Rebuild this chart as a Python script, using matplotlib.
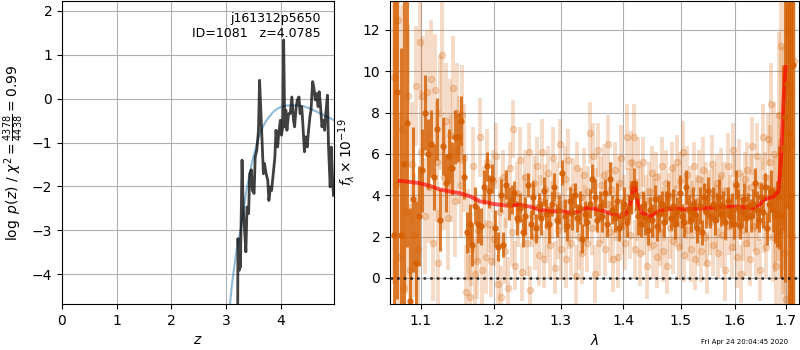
import numpy as np
import matplotlib
matplotlib.use('Agg')
import matplotlib.pyplot as plt
from matplotlib.ticker import NullLocator, NullFormatter

# p(z) panel
pz_z = [3.21, 3.215, 3.24, 3.25, 3.26, 3.29, 3.31, 3.34, 3.36, 3.38,
        3.41, 3.43, 3.46, 3.48, 3.51, 3.53, 3.56, 3.59, 3.61, 3.63,
        3.65, 3.68, 3.70, 3.73, 3.76, 3.78, 3.81, 3.83, 3.86, 3.89,
        3.91, 3.94, 3.96, 3.99, 4.01, 4.035, 4.05, 4.07, 4.09, 4.11,
        4.14, 4.17, 4.20, 4.23, 4.25, 4.28, 4.30, 4.33, 4.35, 4.38,
        4.40, 4.43, 4.45, 4.48, 4.50, 4.53, 4.55, 4.58, 4.60, 4.63,
        4.65, 4.68, 4.70, 4.72, 4.75, 4.77, 4.80, 4.82, 4.85, 4.87,
        4.90, 4.92, 4.94, 4.96]
pz_logp = [-5.0, -3.19, -3.91, -3.23, -3.84, -1.40, -2.47, -3.08, -3.49, -2.47,
           -2.62, -1.71, -1.62, -2.09, -2.16, -1.33, -1.17, -0.72, 0.42, -0.18,
           -0.79, -1.71, -1.48, -1.71, -1.86, -2.32, -2.01, -2.09, -1.71, -1.33,
           -0.72, -1.10, -0.79, -0.49, -0.83, -0.64, 1.34, -0.64, -0.26, -0.72,
           -0.34, -0.34, 0.04, -0.49, -0.64, -0.18, -0.03, 0.04, -0.34, -0.18,
           -0.56, -1.21, -0.87, -1.10, -0.79, -0.41, -0.26, 0.39, 0.27, -0.03,
           0.12, -0.18, 0.16, -0.11, -0.64, -0.49, -0.72, -0.34, 0.08, -1.10,
           -2.01, -1.10, -1.71, -2.20]

prior_z = [3.05, 3.07, 3.10, 3.13, 3.16, 3.19, 3.22, 3.25, 3.28, 3.31,
           3.34, 3.37, 3.40, 3.43, 3.46, 3.49, 3.52, 3.56, 3.60, 3.65,
           3.70, 3.75, 3.80, 3.86, 3.92, 3.98, 4.04, 4.12, 4.22, 4.32,
           4.41, 4.50, 4.59, 4.68, 4.77, 4.86, 4.97]
prior_logp = [-5.0, -4.68, -4.30, -3.99, -3.72, -3.46, -3.26, -3.08, -2.85, -2.62,
              -2.34, -2.09, -1.90, -1.71, -1.52, -1.36, -1.22, -1.02, -0.86, -0.70,
              -0.57, -0.47, -0.39, -0.30, -0.24, -0.20, -0.17, -0.155, -0.15, -0.155,
              -0.17, -0.21, -0.26, -0.31, -0.37, -0.42, -0.49]

# binned spectrum, 0.004 um steps from 1.066
bin_wave = np.round(1.066 + 0.004 * np.arange(163), 4)
bin_flux = [2.1, 9.0, 2.1, 5.5, 7.5, -1.1, 3.8, 0.7, 3.0, 5.2,
            8.0, 6.0, 6.5, 4.9, 7.2, 2.8, 6.4, 4.6, 5.9, 5.3,
            6.8, 6.8, 7.6, 4.9, 2.2, 2.6, 1.6, 3.5, 2.6, 2.5,
            4.4, 5.4, 4.2, 4.8, 2.4, 1.5, 4.0, 1.6, 4.5, 3.6,
            3.8, 4.1, 2.9, 3.4, 2.2, 3.0, 4.5, 2.6, 3.9, 2.4,
            3.5, 2.9, 4.2, 3.1, 2.6, 3.6, 4.4, 2.8, 3.3, 5.1,
            3.0, 2.5, 3.7, 3.2, 4.0, 2.9, 3.4, 1.9, 3.1, 2.7,
            3.6, 4.8, 3.9, 2.8, 3.5, 3.0, 4.1, 2.6, 4.8, 3.3,
            2.9, 3.7, 2.4, 3.1, 3.6, 2.7, 3.4, 3.9, 4.6, 4.0,
            3.0, 2.6, 3.5, 2.9, 2.3, 3.3, 2.8, 3.8, 2.5, 3.1,
            3.6, 2.7, 3.4, 4.0, 2.9, 3.5, 2.6, 3.2, 4.1, 3.0,
            2.7, 4.4, 3.3, 2.8, 3.6, 3.1, 2.4, 3.5, 2.2, 3.9,
            3.2, 4.2, 3.0, 3.6, 2.8, 3.4, 3.9, 3.1, 3.5, 2.7,
            3.7, 3.0, 3.3, 2.6, 4.5, 3.4, 2.5, 3.2, 3.8, 2.9,
            3.5, 3.0, 3.6, 4.6, 3.3, 2.8, 3.9, 3.2, 4.4, 2.4,
            3.6, 4.2, 3.3, 3.0, 3.1, 3.9, 3.0, 6.3, 7.8, 9.4,
            7.0, 4.0, 10.3]
bin_err = [12, 10, 9, 8, 6, 4.5, 3.5, 3.0, 2.4, 2.0,
           1.8, 1.7, 1.6, 1.6, 1.5, 1.5, 1.4, 1.4, 1.3, 1.3,
           1.3, 1.2, 1.2, 1.1, 1.0, 1.0, 1.0, 0.9, 0.9, 0.9,
           0.8, 0.7, 0.8, 0.7, 0.9, 0.7, 0.8, 0.6, 0.7, 0.8,
           0.7, 0.6, 0.8, 0.7, 0.7, 0.9, 0.6, 0.7, 0.8, 0.7,
           0.6, 0.8, 0.7, 0.7, 0.9, 0.6, 0.7, 0.8, 0.7, 0.6,
           0.8, 0.7, 0.7, 0.9, 0.6, 0.7, 0.8, 0.7, 0.6, 0.8,
           0.7, 0.7, 0.9, 0.6, 0.7, 0.8, 0.7, 0.6, 0.8, 0.7,
           0.7, 0.9, 0.6, 0.7, 0.8, 0.7, 0.6, 0.8, 0.7, 0.7,
           0.9, 0.6, 0.7, 0.8, 0.7, 0.6, 0.8, 0.7, 0.7, 0.9,
           0.6, 0.7, 0.8, 0.7, 0.6, 0.8, 0.7, 0.7, 0.9, 0.6,
           0.7, 0.8, 0.7, 0.6, 0.8, 0.7, 0.7, 0.9, 0.6, 0.7,
           0.8, 0.7, 0.6, 0.8, 0.7, 0.7, 0.9, 0.6, 0.7, 0.8,
           0.7, 0.6, 0.8, 0.7, 0.7, 0.9, 0.6, 0.7, 0.8, 0.7,
           0.6, 0.8, 0.7, 0.7, 0.9, 0.6, 0.7, 0.8, 0.7, 0.8,
           0.9, 1.0, 1.1, 1.3, 1.6, 2.5, 3.0, 4.0, 8.0, 6.0,
           15, 15, 15]

# unbinned spectrum, 0.0025 um steps from 1.066
spec_wave = np.round(1.066 + 0.0025 * np.arange(261), 4)
spec_flux = [9.7, 4.5, 12.5, 1.0, 7.2, -0.5, 3.2, 8.8, 0.4, 5.5,
             2.1, 9.3, 1.4, 11.4, 6.1, 8.8, 3.0, 9.0, 4.4, 9.6,
             1.7, 9.1, 5.6, 0.7, 8.0, 10.8, 4.9, 7.6, 2.9, 6.9,
             5.3, 9.2, 3.7, 8.0, 6.2, 4.5, 7.9, 5.8, -0.7, 2.1,
             -0.9, 1.4, 5.4, 0.2, 0.8, 2.3, 6.8, 0.4, 3.9, 1.0,
             5.6, 2.6, 0.8, 4.7, 1.9, 5.9, -0.3, 3.2, -0.9, 4.9,
             1.3, 3.8, -0.5, 5.3, 2.2, 7.2, 0.6, 4.1, 2.8, 5.7,
             0.3, 3.5, 4.9, 1.7, 6.1, -0.6, 3.0, 4.6, 2.0, 5.4,
             1.1, 3.7, 6.1, 0.9, 4.3, 2.5, 5.1, 1.6, 3.3, 5.8,
             0.5, 4.0, 2.3, 6.5, 1.4, 3.6, 4.8, 0.9, 5.7, 2.7,
             1.7, 4.4, 3.1, 0.1, 5.3, 2.0, 3.9, 1.2, 5.0, 2.9,
             1.7, 4.2, 7.0, 2.4, 5.9, 0.2, 3.8, 6.2, 1.7, 4.5,
             2.9, 5.0, 1.4, 3.6, 6.5, 2.2, 4.3, 0.9, 5.2, 3.0,
             1.0, 4.6, 5.8, 2.5, 3.5, 1.7, 6.8, 3.9, 2.1, 5.6,
             4.4, 6.8, 1.4, 3.3, 5.5, 1.2, 4.0, 5.6, 2.6, 3.7,
             0.6, 4.2, 2.8, 5.1, 1.6, 3.4, 4.9, 1.0, 3.8, 2.2,
             5.4, 1.3, 3.1, 4.6, 0.6, 3.9, 2.4, 5.3, 1.8, 4.1,
             3.0, 5.6, 1.5, 4.7, 2.6, 6.1, 1.1, 3.5, 5.0, 2.3,
             4.1, 1.4, 3.3, 5.4, 0.9, 3.7, 2.2, 4.8, 1.3, 3.6,
             5.2, 2.0, 4.4, 0.7, 3.9, 2.7, 5.5, 1.6, 4.0, 2.9,
             4.6, 1.2, 3.5, 5.0, 2.1, 4.2, 0.4, 3.1, 5.4, 2.5,
             3.8, 1.5, 6.2, 2.9, 4.6, 1.0, 3.3, 5.1, 0.2, 3.9,
             2.3, 4.8, 1.7, 5.2, 3.0, 0.9, 4.4, 6.4, 2.5, 3.7,
             1.3, 5.9, 3.2, 0.4, 4.5, 6.8, 2.6, 4.9, 1.5, 6.7,
             3.4, 5.6, 8.4, 2.0, 6.0, 3.1, 0.6, 4.4, 7.9, 2.2,
             11.2, 5.2, 1.2, 8.4, -1.0, 12.0, 3.5, 9.0, 6.5, 2.0,
             10.5]
spec_err = [10, 9, 8, 7, 6, 5, 4, 3.5, 3.2, 3.0,
            3.0, 2.9, 3.1, 2.8, 3.0, 2.9, 2.8, 3.0, 2.7, 2.9,
            2.8, 2.7, 2.9, 2.6, 2.8, 2.7, 2.6, 2.8, 2.5, 2.7,
            2.6, 2.5, 2.7, 2.4, 2.6, 2.5, 2.4, 2.6, 2.3, 2.2,
            2.0, 1.8, 1.9, 1.7, 1.8, 1.6, 1.9, 1.7, 1.5, 1.8,
            1.6, 1.4, 1.7, 1.5, 1.3, 1.6, 1.4, 1.7, 1.5, 1.3,
            1.6, 1.4, 1.5, 1.3, 1.6, 1.4, 1.2, 1.5, 1.3, 1.6,
            1.4, 1.5, 1.3, 1.6, 1.4, 1.2, 1.5, 1.3, 1.6, 1.4,
            1.5, 1.3, 1.6, 1.4, 1.2, 1.5, 1.3, 1.6, 1.4, 1.5,
            1.3, 1.6, 1.4, 1.2, 1.5, 1.3, 1.6, 1.4, 1.5, 1.3,
            1.6, 1.4, 1.2, 1.5, 1.3, 1.6, 1.4, 1.5, 1.3, 1.6,
            1.4, 1.2, 1.5, 1.3, 1.6, 1.4, 1.5, 1.3, 1.6, 1.4,
            1.2, 1.5, 1.3, 1.6, 1.4, 1.5, 1.3, 1.6, 1.4, 1.2,
            1.5, 1.3, 1.6, 1.4, 1.5, 1.3, 1.6, 1.4, 1.2, 1.5,
            1.3, 1.6, 1.4, 1.5, 1.3, 1.6, 1.4, 1.2, 1.5, 1.3,
            1.6, 1.4, 1.5, 1.3, 1.6, 1.4, 1.2, 1.5, 1.3, 1.6,
            1.4, 1.5, 1.3, 1.6, 1.4, 1.2, 1.5, 1.3, 1.6, 1.4,
            1.5, 1.3, 1.6, 1.4, 1.2, 1.5, 1.3, 1.6, 1.4, 1.5,
            1.3, 1.6, 1.4, 1.2, 1.5, 1.3, 1.6, 1.4, 1.5, 1.3,
            1.6, 1.4, 1.2, 1.5, 1.3, 1.6, 1.4, 1.5, 1.3, 1.6,
            1.4, 1.2, 1.5, 1.3, 1.6, 1.4, 1.5, 1.3, 1.6, 1.4,
            1.2, 1.5, 1.3, 1.6, 1.4, 1.5, 1.3, 1.6, 1.4, 1.2,
            1.5, 1.3, 1.6, 1.4, 1.5, 1.3, 1.6, 1.4, 1.2, 1.5,
            1.3, 1.6, 1.4, 1.5, 1.3, 1.6, 1.4, 1.2, 1.5, 1.3,
            1.6, 1.8, 2.0, 2.2, 2.5, 2.8, 3.2, 3.6, 4.0, 4.5,
            5, 6, 7, 8, 9, 10, 10, 11, 12, 12,
            12]

# best-fit template
model_wave = [1.073, 1.085, 1.099, 1.112, 1.1255, 1.139, 1.1526, 1.1665, 1.1805, 1.190,
              1.199, 1.2195, 1.238, 1.253, 1.268, 1.283, 1.299, 1.319, 1.330, 1.341,
              1.362, 1.379, 1.3955, 1.405, 1.412, 1.4165, 1.419, 1.4215, 1.425, 1.432,
              1.446, 1.458, 1.469, 1.487, 1.505, 1.547, 1.578, 1.603, 1.625, 1.638,
              1.648, 1.656, 1.6754, 1.6855, 1.6902, 1.6955, 1.6995]
model_flux = [4.69, 4.65, 4.58, 4.45, 4.28, 4.18, 4.10, 3.95, 3.70, 3.66,
              3.58, 3.50, 3.53, 3.45, 3.30, 3.22, 3.24, 3.13, 3.25, 3.40,
              3.30, 3.13, 2.97, 3.10, 3.50, 4.20, 4.60, 4.25, 3.60, 3.15,
              2.97, 3.18, 3.29, 3.37, 3.32, 3.37, 3.45, 3.45, 3.40, 3.37,
              3.55, 3.80, 3.93, 4.20, 5.70, 8.60, 10.2]

wave_ticks = [1.1, 1.2, 1.3, 1.4, 1.5, 1.6, 1.7]
g141_color = (0.8352941176470589, 0.3686274509803922, 0.0)

fig = plt.figure(figsize=(8, 3.5), dpi=100)

ax = fig.add_axes([0.0775, 0.1314, 0.34, 0.866])
ax.plot(prior_z, prior_logp, color='tab:blue', alpha=0.5, lw=1.5)
ax.plot(pz_z, pz_logp, color='k', alpha=0.75, lw=2)
ax.set_xlim(0, 4.97)
ax.set_ylim(-4.68, 2.23)
ax.set_xticks([0, 1, 2, 3, 4])
ax.set_yticks([-4, -3, -2, -1, 0, 1, 2])
ax.grid()
ax.set_xlabel(r'$z$')
ax.set_ylabel(r'$\log\ p(z)$' + ' / ' + r'$\chi^2=\frac{4378}{4438}=0.99$')
ax.text(0.95, 0.965, 'j161312p5650\nID=1081   z=4.0785', ha='right', va='top',
        transform=ax.transAxes, fontsize=9)

ax = fig.add_axes([0.4875, 0.1314, 0.51125, 0.866])
ax.errorbar(spec_wave, spec_flux, spec_err, color=g141_color, alpha=0.22,
            marker='o', ms=4.5, linestyle='None', elinewidth=2.8)
ax.errorbar(bin_wave, bin_flux, bin_err, color=g141_color, alpha=0.8,
            marker='o', ms=3.6, linestyle='None', elinewidth=2.2)
ax.plot(model_wave, model_flux, color='r', alpha=0.65, lw=2.8)
ax.plot([1.0605, 1.727], [0, 0], color='k', linestyle=':', lw=1.8, alpha=0.8)
ax.set_xscale('log')
ax.set_xlim(1.0605, 1.727)
ax.set_ylim(-1.26, 13.4)
ax.set_xticks(wave_ticks)
ax.set_xticklabels([str(w) for w in wave_ticks])
ax.xaxis.set_minor_locator(NullLocator())
ax.xaxis.set_minor_formatter(NullFormatter())
ax.set_yticks([0, 2, 4, 6, 8, 10, 12])
ax.grid()
ax.set_xlabel(r'$\lambda$')
ax.set_ylabel(r'$f_\lambda\times10^{-19}$')

fig.text(0.985, 0.015, 'Fri Apr 24 20:04:45 2020', ha='right', va='bottom', fontsize=5)

fig.savefig('out.png', dpi=100)
